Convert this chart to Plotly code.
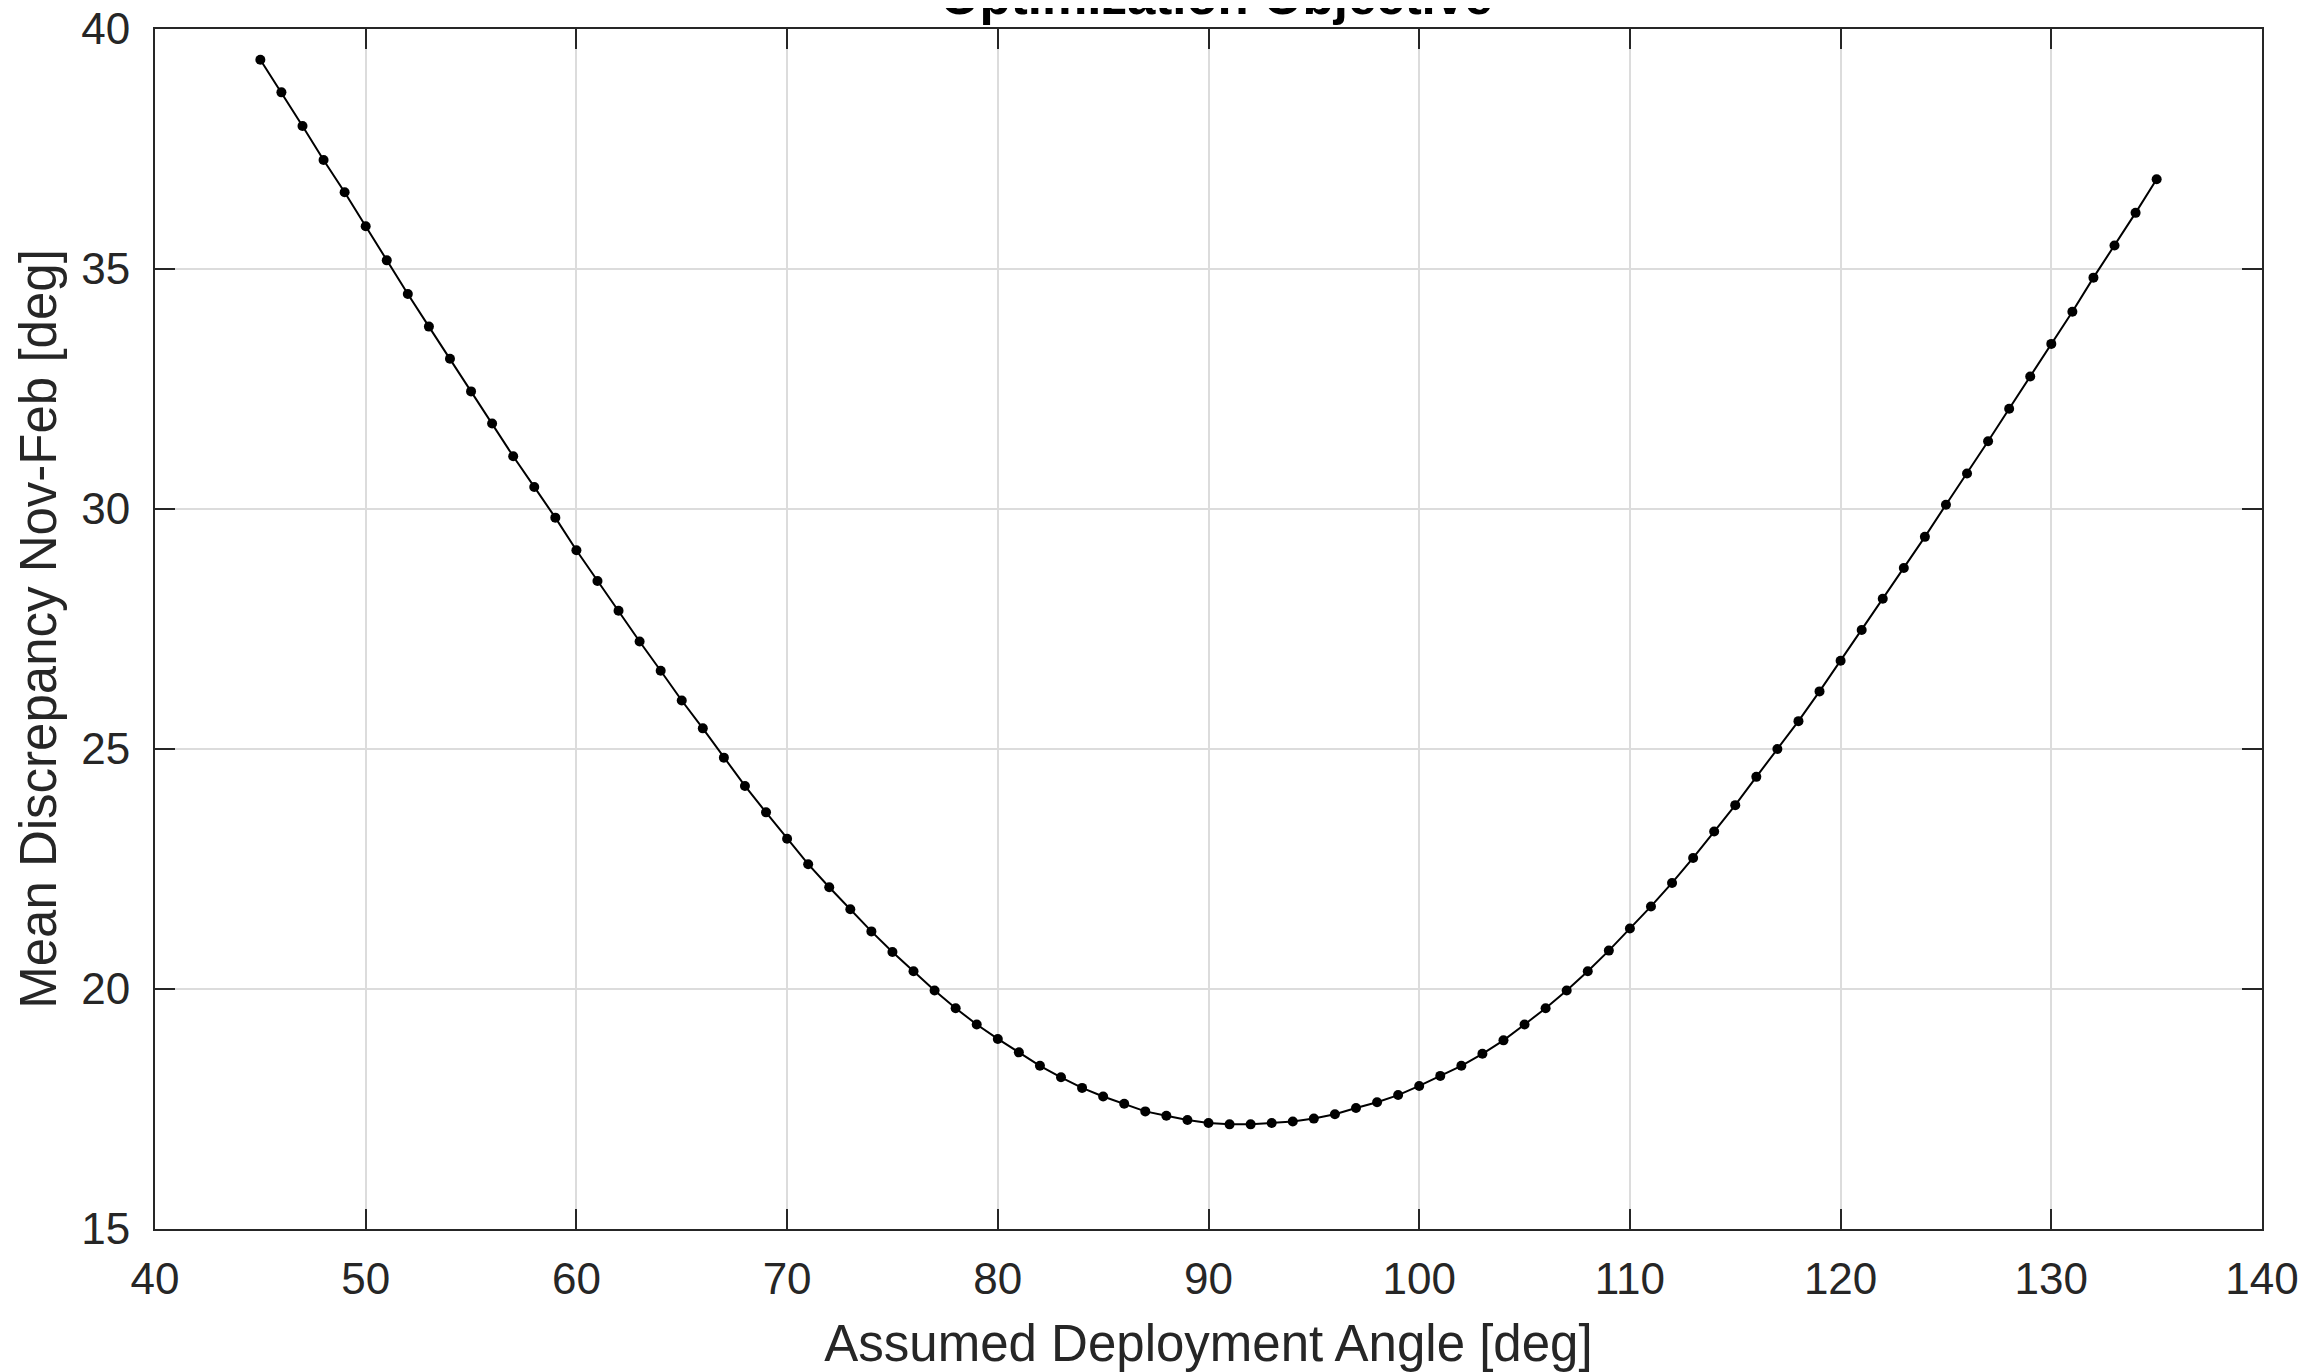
import plotly.graph_objects as go

angles = list(range(45, 136))
discrepancy = [
    39.36, 38.68, 37.98, 37.27, 36.60, 35.89, 35.18, 34.48, 33.80, 33.13,
    32.45, 31.78, 31.10, 30.46, 29.82, 29.14, 28.50, 27.88, 27.24, 26.63,
    26.01, 25.43, 24.82, 24.23, 23.68, 23.13, 22.60, 22.12, 21.66, 21.20,
    20.77, 20.37, 19.97, 19.60, 19.26, 18.96, 18.68, 18.40, 18.16, 17.94,
    17.76, 17.61, 17.45, 17.36, 17.27, 17.21, 17.18, 17.18, 17.21, 17.24,
    17.30, 17.39, 17.52, 17.64, 17.79, 17.98, 18.19, 18.40, 18.65, 18.93,
    19.26, 19.60, 19.97, 20.37, 20.80, 21.26, 21.72, 22.21, 22.73, 23.28,
    23.83, 24.42, 25.00, 25.58, 26.20, 26.84, 27.48, 28.13, 28.77, 29.42,
    30.09, 30.74, 31.41, 32.09, 32.76, 33.44, 34.11, 34.82, 35.49, 36.17,
    36.87,
]
x_ticks = [40, 50, 60, 70, 80, 90, 100, 110, 120, 130, 140]
y_ticks = [15, 20, 25, 30, 35, 40]

FONT = "Liberation Sans, Arial, Helvetica, sans-serif"
INK = "#262626"

fig = go.Figure()
fig.add_trace(go.Scatter(
    x=angles, y=discrepancy, mode="lines+markers",
    line=dict(color="black", width=2),
    marker=dict(color="black", size=10),
    showlegend=False,
))

axis_common = dict(
    showline=True, linecolor=INK, linewidth=2, mirror="ticks",
    ticks="inside", ticklen=20, tickwidth=2, tickcolor=INK,
    showgrid=True, gridcolor="#dcdcdc", gridwidth=1.5,
    zeroline=False, ticklabeloverflow="allow", automargin=False,
    tickfont=dict(family=FONT, size=44, color=INK),
)

fig.update_xaxes(
    range=[40, 140], tickvals=x_ticks, ticklabelstandoff=10,
    title=dict(text="Assumed Deployment Angle [deg]",
               font=dict(family=FONT, size=51, color=INK), standoff=24),
    **axis_common,
)
fig.update_yaxes(
    range=[15, 40], tickvals=y_ticks, ticklabelstandoff=14,
    title=dict(text="Mean Discrepancy Nov-Feb [deg]",
               font=dict(family=FONT, size=51, color=INK), standoff=8),
    **axis_common,
)

fig.update_layout(
    width=2308, height=1372,
    margin=dict(l=147, r=54, t=21, b=151),
    paper_bgcolor="white", plot_bgcolor="white",
    title=dict(text="<b>Optimization Objective</b>",
               font=dict(family=FONT, size=51, color="black"),
               x=0.5235, xanchor="center", y=1 - 6 / 1372, yanchor="bottom"),
)

fig.write_html("out.html")
